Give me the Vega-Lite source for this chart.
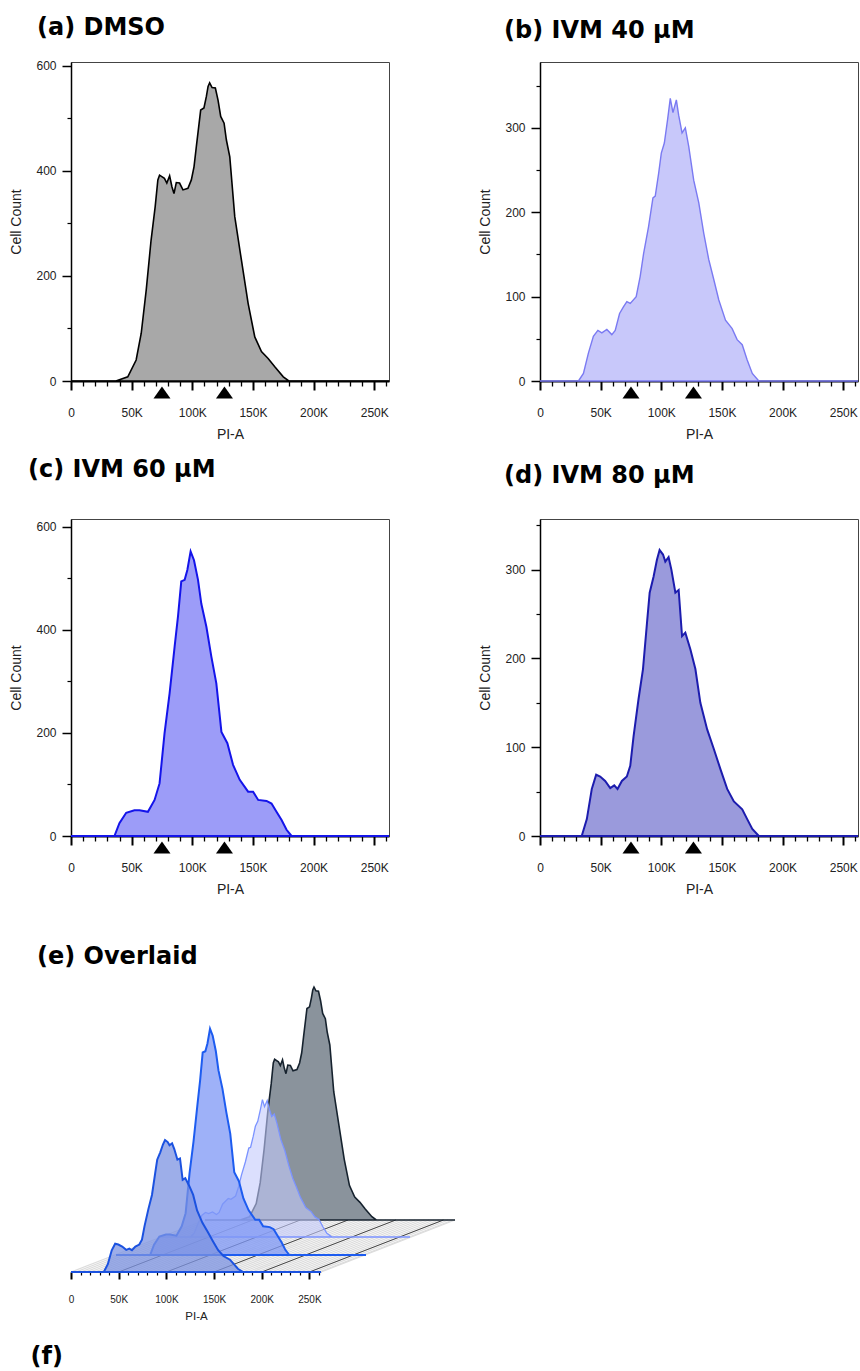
{
"$schema":"https://vega.github.io/schema/vega-lite/v6.json",
"background":"white",
"padding":{"left":9,"top":15,"right":2,"bottom":2},
"config":{
 "view":{"stroke":"#444","strokeWidth":1},
 "title":{"font":"DejaVu Sans","fontSize":24,"fontWeight":"bold","anchor":"start","color":"#000","frame":"group"},
 "axis":{"labelFont":"Liberation Sans","titleFont":"Liberation Sans","labelColor":"#222","titleColor":"#222","titleFontWeight":"normal","domainColor":"#000","tickColor":"#000","grid":false,"zindex":1,"labelOverlap":false,"labelFlush":false,"labelBound":false}
},
"datasets":{
 "dmso":[{"x":0,"y":0},{"x":37000,"y":0},{"x":46800,"y":8},{"x":53700,"y":40},{"x":57900,"y":91},{"x":62000,"y":173},{"x":66000,"y":268},{"x":69400,"y":332},{"x":71600,"y":383},{"x":73000,"y":392},{"x":77000,"y":386},{"x":79000,"y":377},{"x":81300,"y":391},{"x":83200,"y":370},{"x":84900,"y":357},{"x":86800,"y":378},{"x":89500,"y":377},{"x":92300,"y":364},{"x":96400,"y":367},{"x":99200,"y":383},{"x":101400,"y":408},{"x":103300,"y":446},{"x":106900,"y":516},{"x":109600,"y":520},{"x":111600,"y":542},{"x":113000,"y":561},{"x":114300,"y":568},{"x":116300,"y":559},{"x":119000,"y":558},{"x":121200,"y":535},{"x":123400,"y":504},{"x":126200,"y":491},{"x":128100,"y":459},{"x":130900,"y":427},{"x":135000,"y":313},{"x":140500,"y":230},{"x":146000,"y":148},{"x":151500,"y":84},{"x":157000,"y":56},{"x":162500,"y":43},{"x":168000,"y":27},{"x":175000,"y":8},{"x":179600,"y":0},{"x":262144,"y":0}],
 "ivm40":[{"x":0,"y":0},{"x":31700,"y":0},{"x":35800,"y":9},{"x":39900,"y":33},{"x":44000,"y":53},{"x":47700,"y":60},{"x":51000,"y":57},{"x":55100,"y":61},{"x":59200,"y":55},{"x":62000,"y":60},{"x":65600,"y":80},{"x":68900,"y":88},{"x":71600,"y":94},{"x":74400,"y":92},{"x":79300,"y":100},{"x":82600,"y":124},{"x":85400,"y":151},{"x":89500,"y":183},{"x":93100,"y":217},{"x":95000,"y":219},{"x":97800,"y":246},{"x":100000,"y":270},{"x":102500,"y":282},{"x":105200,"y":310},{"x":107400,"y":335},{"x":109600,"y":318},{"x":112400,"y":333},{"x":114300,"y":315},{"x":117100,"y":294},{"x":119800,"y":300},{"x":122600,"y":278},{"x":126700,"y":238},{"x":130900,"y":211},{"x":135000,"y":175},{"x":139100,"y":144},{"x":143300,"y":120},{"x":147400,"y":96},{"x":152900,"y":72},{"x":158400,"y":62},{"x":162500,"y":49},{"x":166700,"y":43},{"x":170800,"y":25},{"x":175000,"y":9},{"x":180400,"y":0},{"x":262144,"y":0}],
 "ivm60":[{"x":0,"y":0},{"x":35800,"y":0},{"x":39900,"y":25},{"x":45500,"y":45},{"x":52300,"y":50},{"x":56500,"y":50},{"x":63400,"y":47},{"x":68900,"y":70},{"x":73000,"y":102},{"x":77100,"y":199},{"x":81300,"y":277},{"x":85400,"y":367},{"x":88200,"y":426},{"x":90900,"y":494},{"x":93700,"y":497},{"x":95900,"y":516},{"x":98600,"y":552},{"x":101400,"y":535},{"x":104700,"y":497},{"x":107400,"y":451},{"x":111600,"y":406},{"x":115700,"y":348},{"x":119800,"y":296},{"x":124000,"y":202},{"x":128900,"y":180},{"x":133600,"y":138},{"x":139100,"y":109},{"x":146000,"y":86},{"x":150100,"y":86},{"x":154300,"y":70},{"x":161200,"y":68},{"x":165300,"y":63},{"x":169400,"y":47},{"x":173600,"y":31},{"x":177700,"y":12},{"x":181800,"y":0},{"x":262144,"y":0}],
 "ivm80":[{"x":0,"y":0},{"x":34400,"y":0},{"x":38600,"y":19},{"x":42700,"y":53},{"x":46300,"y":69},{"x":49600,"y":67},{"x":53700,"y":62},{"x":57900,"y":54},{"x":61200,"y":57},{"x":63900,"y":53},{"x":67500,"y":62},{"x":71600,"y":67},{"x":74400,"y":79},{"x":77100,"y":112},{"x":81200,"y":154},{"x":84900,"y":188},{"x":88200,"y":240},{"x":90400,"y":274},{"x":93600,"y":292},{"x":96400,"y":311},{"x":98600,"y":322},{"x":101400,"y":317},{"x":103300,"y":309},{"x":106000,"y":314},{"x":108300,"y":300},{"x":111600,"y":274},{"x":114300,"y":277},{"x":117100,"y":225},{"x":119800,"y":229},{"x":124000,"y":210},{"x":128100,"y":188},{"x":132200,"y":150},{"x":137800,"y":120},{"x":143300,"y":98},{"x":148800,"y":75},{"x":154300,"y":53},{"x":159800,"y":39},{"x":166700,"y":30},{"x":170800,"y":19},{"x":175000,"y":8},{"x":180400,"y":0},{"x":262144,"y":0}],
 "gates":[{"x":75000},{"x":126500}],
 "floor":[{"x":0},{"x":5000},{"x":10000},{"x":15000},{"x":20000},{"x":25000},{"x":30000},{"x":35000},{"x":40000},{"x":45000},{"x":50000},{"x":55000},{"x":60000},{"x":65000},{"x":70000},{"x":75000},{"x":80000},{"x":85000},{"x":90000},{"x":95000},{"x":100000},{"x":105000},{"x":110000},{"x":115000},{"x":120000},{"x":125000},{"x":130000},{"x":135000},{"x":140000},{"x":145000},{"x":150000},{"x":155000},{"x":160000},{"x":165000},{"x":170000},{"x":175000},{"x":180000},{"x":185000},{"x":190000},{"x":195000},{"x":200000},{"x":205000},{"x":210000},{"x":215000},{"x":220000},{"x":225000},{"x":230000},{"x":235000},{"x":240000},{"x":245000},{"x":250000},{"x":255000},{"x":260000},{"x":262144}],
 "floorMajor":[{"x":50000},{"x":100000},{"x":150000},{"x":200000},{"x":250000}]
},
"columns":2,
"spacing":{"row":138,"column":151},
"bounds":"flush",
"align":"each",
"title":{"text":"(f)","orient":"bottom","anchor":"start","frame":"bounds","offset":23,"dx":21},
"concat":[
{
 "width":318,"height":319,
 "title":{"text":"(a) DMSO","dx":-34,"offset":20},
 "encoding":{
  "x":{"field":"x","type":"quantitative","scale":{"domain":[0,262144],"nice":false,"zero":false},
   "axis":{"title":"PI-A","values":[0,10000,20000,30000,40000,50000,60000,70000,80000,90000,100000,110000,120000,130000,140000,150000,160000,170000,180000,190000,200000,210000,220000,230000,240000,250000,260000],"labelExpr":"datum.value % 50000 === 0 ? (datum.value === 0 ? '0' : (datum.value/1000) + 'K') : ''","tickSize":{"condition":{"test":"datum.value % 50000 === 0","value":9},"value":5},"tickWidth":{"condition":{"test":"datum.value % 50000 === 0","value":2},"value":1.3},"labelPadding":17,"labelFontSize":12,"titleFontSize":14,"titlePadding":9,"domainWidth":2}}},
 "layer":[
  {"data":{"name":"dmso"},"mark":{"type":"area","fill":"#a8a8a8","fillOpacity":1,"stroke":"#000","strokeWidth":1.6},
   "encoding":{"y":{"field":"y","type":"quantitative","scale":{"domain":[0,607.6],"nice":false},
   "axis":{"title":"Cell Count","values":[0,50,100,150,200,250,300,350,400,450,500,550,600],"labelExpr":"datum.value % 200 === 0 ? datum.label : ''","tickSize":{"condition":{"test":"datum.value % 200 === 0","value":9},"value":4},"tickWidth":{"condition":{"test":"datum.value % 200 === 0","value":1.5},"value":1.2},"labelPadding":6,"labelFontSize":12,"titleFontSize":14,"titlePadding":12,"domainWidth":1.5}}}},
  {"data":{"name":"gates"},"mark":{"type":"point","shape":"M-1,0.7L1,0.7L0,-0.7Z","size":289,"filled":true,"color":"#000","opacity":1,"yOffset":11.5},
   "encoding":{"y":{"datum":0,"type":"quantitative","scale":{"domain":[0,607.6],"nice":false}}}}
 ]
},
{
 "width":318,"height":319,
 "title":{"text":"(b) IVM 40 μM","dx":-36,"offset":19},
 "encoding":{
  "x":{"field":"x","type":"quantitative","scale":{"domain":[0,262144],"nice":false,"zero":false},
   "axis":{"title":"PI-A","values":[0,10000,20000,30000,40000,50000,60000,70000,80000,90000,100000,110000,120000,130000,140000,150000,160000,170000,180000,190000,200000,210000,220000,230000,240000,250000,260000],"labelExpr":"datum.value % 50000 === 0 ? (datum.value === 0 ? '0' : (datum.value/1000) + 'K') : ''","tickSize":{"condition":{"test":"datum.value % 50000 === 0","value":9},"value":5},"tickWidth":{"condition":{"test":"datum.value % 50000 === 0","value":2},"value":1.3},"labelPadding":17,"labelFontSize":12,"titleFontSize":14,"titlePadding":9,"domainWidth":2}}},
 "layer":[
  {"data":{"name":"ivm40"},"mark":{"type":"area","fill":"#c8c8fa","fillOpacity":1,"stroke":"#7a7af2","strokeWidth":1.4},
   "encoding":{"y":{"field":"y","type":"quantitative","scale":{"domain":[0,378],"nice":false},
   "axis":{"title":"Cell Count","values":[0,25,50,75,100,125,150,175,200,225,250,275,300,325,350,375],"labelExpr":"datum.value % 100 === 0 ? datum.label : ''","tickSize":{"condition":{"test":"datum.value % 100 === 0","value":9},"value":4},"tickWidth":{"condition":{"test":"datum.value % 100 === 0","value":1.5},"value":1.2},"labelPadding":6,"labelFontSize":12,"titleFontSize":14,"titlePadding":12,"domainWidth":1.5}}}},
  {"data":{"name":"gates"},"mark":{"type":"point","shape":"M-1,0.7L1,0.7L0,-0.7Z","size":289,"filled":true,"color":"#000","opacity":1,"yOffset":11.5},
   "encoding":{"y":{"datum":0,"type":"quantitative","scale":{"domain":[0,378],"nice":false}}}}
 ]
},
{
 "width":318,"height":317,
 "title":{"text":"(c) IVM 60 μM","dx":-43,"offset":37},
 "encoding":{
  "x":{"field":"x","type":"quantitative","scale":{"domain":[0,262144],"nice":false,"zero":false},
   "axis":{"title":"PI-A","values":[0,10000,20000,30000,40000,50000,60000,70000,80000,90000,100000,110000,120000,130000,140000,150000,160000,170000,180000,190000,200000,210000,220000,230000,240000,250000,260000],"labelExpr":"datum.value % 50000 === 0 ? (datum.value === 0 ? '0' : (datum.value/1000) + 'K') : ''","tickSize":{"condition":{"test":"datum.value % 50000 === 0","value":9},"value":5},"tickWidth":{"condition":{"test":"datum.value % 50000 === 0","value":2},"value":1.3},"labelPadding":17,"labelFontSize":12,"titleFontSize":14,"titlePadding":9,"domainWidth":2}}},
 "layer":[
  {"data":{"name":"ivm60"},"mark":{"type":"area","fill":"#9c9cf8","fillOpacity":1,"stroke":"#1414ea","strokeWidth":2},
   "encoding":{"y":{"field":"y","type":"quantitative","scale":{"domain":[0,615],"nice":false},
   "axis":{"title":"Cell Count","values":[0,50,100,150,200,250,300,350,400,450,500,550,600],"labelExpr":"datum.value % 200 === 0 ? datum.label : ''","tickSize":{"condition":{"test":"datum.value % 200 === 0","value":9},"value":4},"tickWidth":{"condition":{"test":"datum.value % 200 === 0","value":1.5},"value":1.2},"labelPadding":6,"labelFontSize":12,"titleFontSize":14,"titlePadding":12,"domainWidth":1.5}}}},
  {"data":{"name":"gates"},"mark":{"type":"point","shape":"M-1,0.7L1,0.7L0,-0.7Z","size":289,"filled":true,"color":"#000","opacity":1,"yOffset":11.5},
   "encoding":{"y":{"datum":0,"type":"quantitative","scale":{"domain":[0,615],"nice":false}}}}
 ]
},
{
 "width":318,"height":317,
 "title":{"text":"(d) IVM 80 μM","dx":-36,"offset":31},
 "encoding":{
  "x":{"field":"x","type":"quantitative","scale":{"domain":[0,262144],"nice":false,"zero":false},
   "axis":{"title":"PI-A","values":[0,10000,20000,30000,40000,50000,60000,70000,80000,90000,100000,110000,120000,130000,140000,150000,160000,170000,180000,190000,200000,210000,220000,230000,240000,250000,260000],"labelExpr":"datum.value % 50000 === 0 ? (datum.value === 0 ? '0' : (datum.value/1000) + 'K') : ''","tickSize":{"condition":{"test":"datum.value % 50000 === 0","value":9},"value":5},"tickWidth":{"condition":{"test":"datum.value % 50000 === 0","value":2},"value":1.3},"labelPadding":17,"labelFontSize":12,"titleFontSize":14,"titlePadding":9,"domainWidth":2}}},
 "layer":[
  {"data":{"name":"ivm80"},"mark":{"type":"area","fill":"#9a9adc","fillOpacity":1,"stroke":"#1c1cae","strokeWidth":2},
   "encoding":{"y":{"field":"y","type":"quantitative","scale":{"domain":[0,357],"nice":false},
   "axis":{"title":"Cell Count","values":[0,25,50,75,100,125,150,175,200,225,250,275,300,325,350],"labelExpr":"datum.value % 100 === 0 ? datum.label : ''","tickSize":{"condition":{"test":"datum.value % 100 === 0","value":9},"value":4},"tickWidth":{"condition":{"test":"datum.value % 100 === 0","value":1.5},"value":1.2},"labelPadding":6,"labelFontSize":12,"titleFontSize":14,"titlePadding":12,"domainWidth":1.5}}}},
  {"data":{"name":"gates"},"mark":{"type":"point","shape":"M-1,0.7L1,0.7L0,-0.7Z","size":289,"filled":true,"color":"#000","opacity":1,"yOffset":11.5},
   "encoding":{"y":{"datum":0,"type":"quantitative","scale":{"domain":[0,357],"nice":false}}}}
 ]
},
{
 "width":250,"height":298,
 "view":{"stroke":null},
 "title":{"text":"(e) Overlaid","dx":-34,"offset":5},
 "encoding":{
  "x":{"field":"x","type":"quantitative","scale":{"domain":[0,262144],"nice":false,"zero":false},
   "axis":{"title":"PI-A","values":[0,10000,20000,30000,40000,50000,60000,70000,80000,90000,100000,110000,120000,130000,140000,150000,160000,170000,180000,190000,200000,210000,220000,230000,240000,250000,260000],"labelExpr":"datum.value % 50000 === 0 ? (datum.value === 0 ? '0' : (datum.value/1000) + 'K') : ''","tickSize":{"condition":{"test":"datum.value % 50000 === 0","value":7},"value":3},"tickWidth":{"condition":{"test":"datum.value % 50000 === 0","value":2},"value":1.2},"labelPadding":15,"labelFontSize":10,"titleFontSize":11.5,"titlePadding":6,"domainWidth":1,"domainColor":"#999"}}
 },
 "layer":[
  {"data":{"name":"floor"},"mark":{"type":"rule","color":"#dcdcdc","strokeWidth":1.3,"x2Offset":134,"y2Offset":-52},
   "encoding":{"x2":{"field":"x"},"y":{"datum":0,"type":"quantitative","scale":{"domain":[0,727],"nice":false},"axis":null},"y2":{"datum":0}}},
  {"data":{"name":"floorMajor"},"mark":{"type":"rule","color":"#444","strokeWidth":1,"x2Offset":134,"y2Offset":-52},
   "encoding":{"x2":{"field":"x"},"y":{"datum":0,"type":"quantitative","scale":{"domain":[0,727],"nice":false},"axis":null},"y2":{"datum":0}}},
  {"data":{"name":"dmso"},"mark":{"type":"area","fill":"#8a939c","fillOpacity":1,"stroke":"#16222e","strokeWidth":1.6,"xOffset":134,"yOffset":-52,"y2Offset":-52},
   "encoding":{"y":{"field":"y","type":"quantitative","scale":{"domain":[0,727],"nice":false},"axis":null}}},
  {"data":{"name":"ivm40"},"mark":{"type":"area","fill":"#c3c9fb","fillOpacity":0.6,"stroke":"#7b93ff","strokeWidth":1.3,"xOffset":89,"yOffset":-35,"y2Offset":-35},
   "encoding":{"y":{"field":"y","type":"quantitative","scale":{"domain":[0,727],"nice":false},"axis":null}}},
  {"data":{"name":"ivm60"},"mark":{"type":"area","fill":"#7d97f6","fillOpacity":0.75,"stroke":"#1d5cf0","strokeWidth":2,"xOffset":45,"yOffset":-17,"y2Offset":-17},
   "encoding":{"y":{"field":"y","type":"quantitative","scale":{"domain":[0,727],"nice":false},"axis":null}}},
  {"data":{"name":"ivm80"},"mark":{"type":"area","fill":"#7c93e2","fillOpacity":0.75,"stroke":"#1b52e0","strokeWidth":2},
   "encoding":{"y":{"field":"y","type":"quantitative","scale":{"domain":[0,727],"nice":false},"axis":null}}}
 ]
}
]
}
